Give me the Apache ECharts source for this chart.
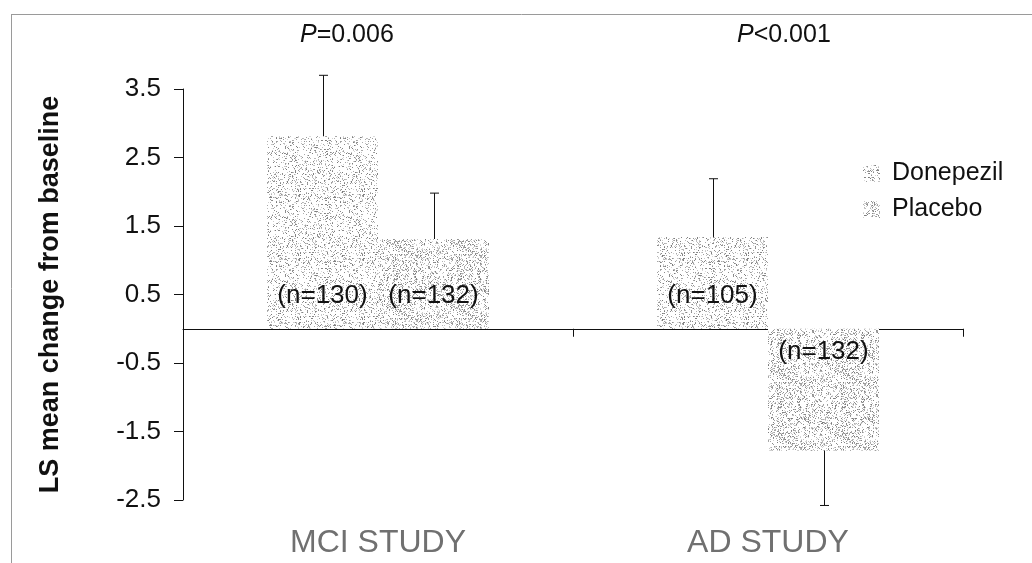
<!DOCTYPE html>
<html>
<head>
<meta charset="utf-8">
<script src="https://cdn.jsdelivr.net/npm/echarts@6/dist/echarts.min.js"></script>
<style>
  html, body { margin: 0; padding: 0; background: #fff; }
  #chart { width: 1032px; height: 563px; }
</style>
</head>
<body>
<div id="chart"></div>
<script>
// data
const studies = ['MCI STUDY', 'AD STUDY']
const donepezilMean = [2.81, 1.34]
const placeboMean = [1.31, -1.78]
const donepezilSE = [0.89, 0.85]
const placeboSE = [0.67, 0.80]
const donepezilN = ['(n=130)', '(n=105)']
const placeboN = ['(n=132)', '(n=132)']
const pValues = ['=0.006', '<0.001']
const yTicks = [-2.5, -1.5, -0.5, 0.5, 1.5, 2.5, 3.5]

const FONT = 'Liberation Sans, Arial, sans-serif'
const BAR_W = 111

// stippled fill like the scanned print
function stipple(density, seed) {
  const c = document.createElement('canvas')
  c.width = 64
  c.height = 64
  const ctx = c.getContext('2d')
  ctx.fillStyle = '#ffffff'
  ctx.fillRect(0, 0, 64, 64)
  let s = seed
  const next = () => {
    s = (s * 1103515245 + 12345) % 2147483648
    return s / 2147483648
  }
  for (let y = 0; y < 64; y++) {
    for (let x = 0; x < 64; x++) {
      if (next() < density) {
        const g = Math.round(120 + next() * 100)
        ctx.fillStyle = `rgb(${g},${g},${g})`
        ctx.fillRect(x, y, 1, 1)
      }
    }
  }
  return { image: c, repeat: 'repeat' }
}

const donepezilFill = stipple(0.2, 7)
const placeboFill = stipple(0.28, 91)

function errorSeries(means, ses, offset) {
  return {
    type: 'custom',
    xAxisIndex: 0,
    silent: true,
    data: means.map((m, i) => [i, m, m >= 0 ? m + ses[i] : m - ses[i]]),
    renderItem: (params, api) => {
      const a = api.coord([api.value(0), api.value(1)])
      const b = api.coord([api.value(0), api.value(2)])
      const x = Math.round(a[0] + offset) + 0.5
      return {
        type: 'group',
        children: [
          { type: 'line', shape: { x1: x, y1: a[1], x2: x, y2: b[1] }, style: { stroke: '#111', lineWidth: 1 } },
          { type: 'line', shape: { x1: x - 4.5, y1: b[1], x2: x + 4.5, y2: b[1] }, style: { stroke: '#111', lineWidth: 1 } },
        ],
      }
    },
    z: 3,
  }
}

function nLabel(texts, means) {
  return means.map((m, i) => ({
    value: m,
    label: {
      show: true,
      formatter: texts[i],
      position: m >= 0 ? 'insideBottom' : 'insideTop',
      distance: m >= 0 ? 20 : 10,
      fontFamily: FONT,
      fontSize: 26,
      color: '#111',
    },
  }))
}

const chart = echarts.init(document.getElementById('chart'))

chart.setOption({
  animation: false,
  title: pValues.map((p, i) => ({
    text: '{i|P}{t|' + p + '}',
    left: i === 0 ? 300 : 737,
    top: 23,
    padding: 0,
    textStyle: {
      fontWeight: 'normal',
      rich: {
        i: { fontFamily: FONT, fontSize: 25, fontStyle: 'italic', fontWeight: 'normal', color: '#111' },
        t: { fontFamily: FONT, fontSize: 25, fontWeight: 'normal', color: '#111' },
      },
    },
  })),
  legend: {
    orient: 'vertical',
    left: 858,
    top: 156,
    itemWidth: 17,
    itemHeight: 17,
    itemGap: 11,
    icon: 'rect',
    textStyle: { fontFamily: FONT, fontSize: 25, color: '#111', lineHeight: 25, padding: [0, 0, 0, 7] },
    data: ['Donepezil', 'Placebo'],
  },
  grid: { left: 183, right: 69, top: 89, bottom: 63 },
  xAxis: [
    {
      type: 'category',
      data: studies,
      position: 'bottom',
      axisLine: { onZero: true, lineStyle: { color: '#111', width: 1 } },
      axisTick: { show: true, length: 8, lineStyle: { color: '#111' } },
      axisLabel: { show: false },
    },
    {
      type: 'category',
      data: studies,
      position: 'bottom',
      axisLine: { show: false, onZero: false },
      axisTick: { show: false },
      axisLabel: { margin: 27, fontFamily: FONT, fontSize: 32, color: '#707070' },
    },
  ],
  yAxis: {
    type: 'value',
    min: -2.5,
    max: 3.5,
    name: 'LS mean change from baseline',
    nameLocation: 'middle',
    nameRotate: 90,
    nameGap: 119,
    nameTextStyle: { fontFamily: FONT, fontSize: 27, fontWeight: 'bold', color: '#111' },
    axisLine: { show: true, lineStyle: { color: '#111', width: 1 } },
    axisTick: { show: true, length: 9, customValues: yTicks, lineStyle: { color: '#111' } },
    axisLabel: { margin: 22, customValues: yTicks, fontFamily: FONT, fontSize: 26, color: '#111', formatter: (v) => v.toFixed(1) },
    splitLine: { show: false },
  },
  graphic: [
    { type: 'line', shape: { x1: 11, y1: 14.5, x2: 1032, y2: 14.5 }, style: { stroke: '#9a9a9a', lineWidth: 1 } },
    { type: 'line', shape: { x1: 11.5, y1: 14, x2: 11.5, y2: 563 }, style: { stroke: '#9a9a9a', lineWidth: 1 } },
  ],
  series: [
    {
      name: 'Donepezil',
      type: 'bar',
      xAxisIndex: 0,
      barWidth: BAR_W,
      barGap: '0%',
      itemStyle: { color: donepezilFill },
      data: nLabel(donepezilN, donepezilMean),
    },
    {
      name: 'Placebo',
      type: 'bar',
      xAxisIndex: 0,
      barWidth: BAR_W,
      barGap: '0%',
      itemStyle: { color: placeboFill },
      data: nLabel(placeboN, placeboMean),
    },
    errorSeries(donepezilMean, donepezilSE, -BAR_W / 2),
    errorSeries(placeboMean, placeboSE, BAR_W / 2),
  ],
})
</script>
</body>
</html>
